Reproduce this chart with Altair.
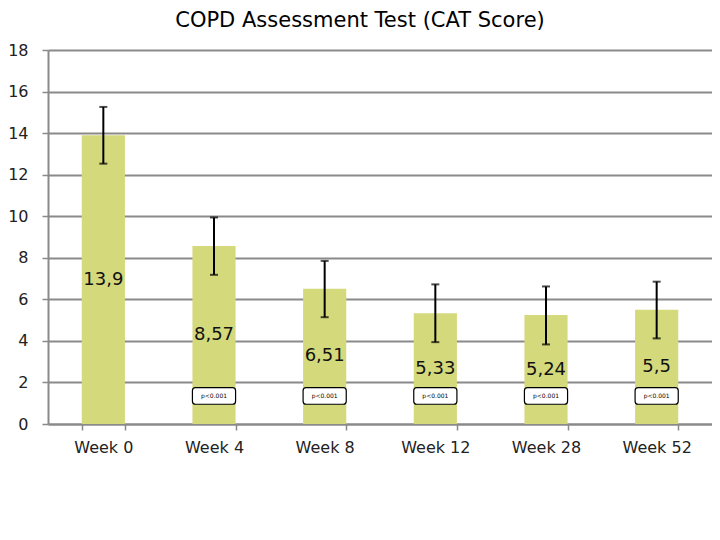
import altair as alt
import pandas as pd

weeks = ["Week 0", "Week 4", "Week 8", "Week 12", "Week 28", "Week 52"]
means = [13.9, 8.57, 6.51, 5.33, 5.24, 5.5]
err_low = [12.53, 7.18, 5.14, 3.94, 3.83, 4.12]
err_high = [15.26, 9.94, 7.85, 6.72, 6.62, 6.85]
value_labels = ["13,9", "8,57", "6,51", "5,33", "5,24", "5,5"]

p_weeks = ["Week 4", "Week 8", "Week 12", "Week 28", "Week 52"]
p_texts = ["p<0.001", "p<0.001", "p<0.001", "p<0.001", "p<0.001"]
p_box_low = [0.95, 0.95, 0.95, 0.95, 0.95]
p_box_high = [1.75, 1.75, 1.75, 1.75, 1.75]

y_ticks = [0, 2, 4, 6, 8, 10, 12, 14, 16, 18]

df = pd.DataFrame({"week": weeks, "mean": means, "lo": err_low, "hi": err_high, "label": value_labels})
df["mid"] = df["mean"] / 2
pdf = pd.DataFrame({"week": p_weeks, "text": p_texts, "y1": p_box_low, "y2": p_box_high})
pdf["yc"] = (pdf["y1"] + pdf["y2"]) / 2

FONT = "DejaVu Sans"
GRAY = "#8a8a8a"

x = alt.X("week:N", sort=weeks, title=None,
          scale=alt.Scale(paddingInner=0.61, paddingOuter=0.305),
          axis=alt.Axis(labelAngle=0, tickBand="extent", tickSize=6, labelPadding=9,
                        labelFontSize=16, labelFont=FONT, labelColor="#222222", grid=False))

bars = alt.Chart(df).mark_bar(color="#D4D97C").encode(
    x=x,
    y=alt.Y("mean:Q", title=None, scale=alt.Scale(domain=[0, 18]),
            axis=alt.Axis(values=y_ticks, grid=True, tickSize=6, labelPadding=14,
                          labelFontSize=16, labelFont=FONT, labelColor="#222222")),
)

rule = alt.Chart(df).mark_rule(color="black", strokeWidth=2).encode(
    x=alt.X("week:N", sort=weeks), y="lo:Q", y2="hi:Q")
cap_lo = alt.Chart(df).mark_tick(color="black", size=8, thickness=2, orient="horizontal").encode(
    x=alt.X("week:N", sort=weeks), y="lo:Q")
cap_hi = alt.Chart(df).mark_tick(color="black", size=8, thickness=2, orient="horizontal").encode(
    x=alt.X("week:N", sort=weeks), y="hi:Q")

labels = alt.Chart(df).mark_text(font=FONT, fontSize=18, color="#111111", baseline="middle").encode(
    x=alt.X("week:N", sort=weeks), y="mid:Q", text="label:N")

pbox = alt.Chart(pdf).mark_bar(fill="white", stroke="black", strokeWidth=1.2, cornerRadius=3).encode(
    x=alt.X("week:N", sort=weeks), y="y1:Q", y2="y2:Q")
ptext = alt.Chart(pdf).mark_text(font=FONT, fontSize=6, color="black", baseline="middle").encode(
    x=alt.X("week:N", sort=weeks), y="yc:Q", text="text:N")

chart = alt.layer(bars, rule, cap_lo, cap_hi, labels, pbox, ptext).properties(
    width=664, height=374,
    title=alt.TitleParams("COPD Assessment Test (CAT Score)", fontSize=21, font=FONT,
                          fontWeight="normal", color="black", anchor="middle", dx=-20, offset=11),
    autosize=alt.AutoSizeParams(type="none"),
    padding={"left": 40, "top": 42, "right": 0, "bottom": 40},
).configure_view(stroke=None).configure_axis(
    gridColor=GRAY, gridWidth=2, domainColor=GRAY, domainWidth=2, tickColor=GRAY, tickWidth=1.5,
)

chart.save("out.html", embed_options={"renderer": "svg", "actions": False})
